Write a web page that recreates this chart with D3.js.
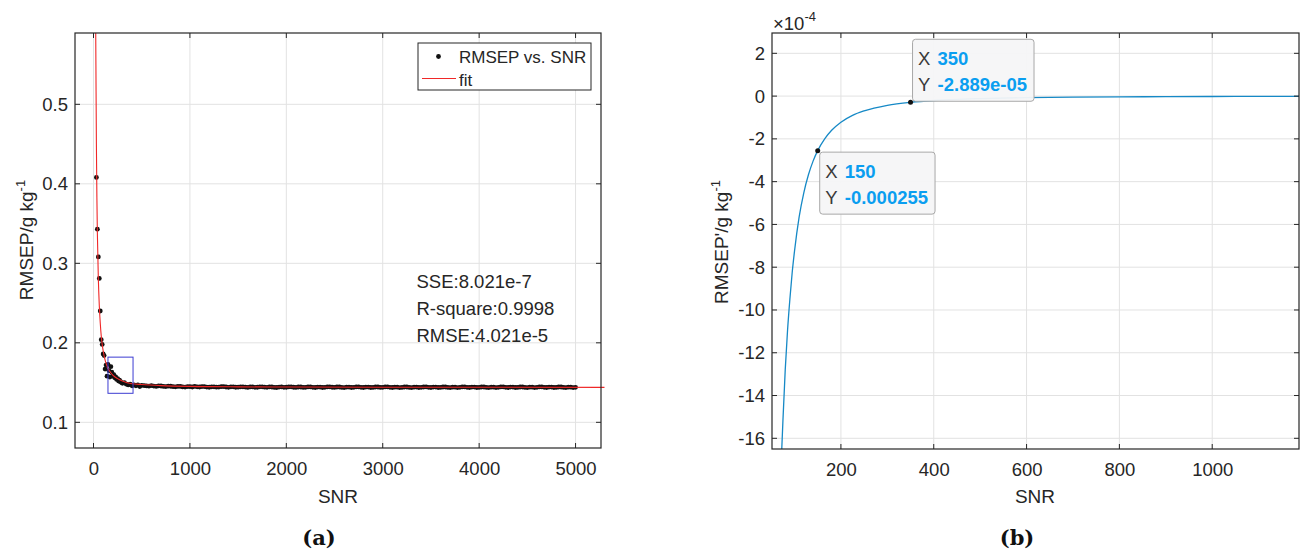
<!DOCTYPE html>
<html>
<head>
<meta charset="utf-8">
<script src="https://cdn.jsdelivr.net/npm/d3@7"></script>
<style>
body { margin: 0; background: #fff; }
svg text { font-family: "Liberation Sans", Arial, sans-serif; fill: #262626; }
</style>
</head>
<body>
<div id="chart-area"></div>
<script>

// ---- panel (a): RMSEP vs SNR, measured points ----
var snrA = [30, 40, 50, 60, 70, 80, 90, 100, 110, 120,
    130, 140, 150, 160, 170, 180, 190, 200, 210, 220,
    230, 240, 250, 260, 270, 280, 290, 300, 320, 340,
    360, 380, 400, 420, 440, 460, 480,
    500, 525, 550, 575, 600, 625, 650, 675, 700, 725,
    750, 775, 800, 825, 850, 875, 900, 925, 950, 975,
    1000, 1025, 1050, 1075, 1100, 1125, 1150, 1175, 1200, 1225,
    1250, 1275, 1300, 1325, 1350, 1375, 1400, 1425, 1450, 1475,
    1500, 1525, 1550, 1575, 1600, 1625, 1650, 1675, 1700, 1725,
    1750, 1775, 1800, 1825, 1850, 1875, 1900, 1925, 1950, 1975,
    2000, 2025, 2050, 2075, 2100, 2125, 2150, 2175, 2200, 2225,
    2250, 2275, 2300, 2325, 2350, 2375, 2400, 2425, 2450, 2475,
    2500, 2525, 2550, 2575, 2600, 2625, 2650, 2675, 2700, 2725,
    2750, 2775, 2800, 2825, 2850, 2875, 2900, 2925, 2950, 2975,
    3000, 3025, 3050, 3075, 3100, 3125, 3150, 3175, 3200, 3225,
    3250, 3275, 3300, 3325, 3350, 3375, 3400, 3425, 3450, 3475,
    3500, 3525, 3550, 3575, 3600, 3625, 3650, 3675, 3700, 3725,
    3750, 3775, 3800, 3825, 3850, 3875, 3900, 3925, 3950, 3975,
    4000, 4025, 4050, 4075, 4100, 4125, 4150, 4175, 4200, 4225,
    4250, 4275, 4300, 4325, 4350, 4375, 4400, 4425, 4450, 4475,
    4500, 4525, 4550, 4575, 4600, 4625, 4650, 4675, 4700, 4725,
    4750, 4775, 4800, 4825, 4850, 4875, 4900, 4925, 4950, 4975,
    5000];
var rmsepA = [0.408, 0.343, 0.308, 0.281, 0.240, 0.204, 0.198, 0.186, 0.184, 0.167,
    0.172, 0.158, 0.173, 0.165, 0.157, 0.170, 0.163, 0.158, 0.160, 0.156,
    0.157, 0.154, 0.155, 0.152, 0.153, 0.151, 0.150, 0.149, 0.150, 0.148,
    0.147, 0.148, 0.146, 0.147, 0.146, 0.147, 0.145,
    0.1465, 0.1461, 0.1458, 0.1455, 0.1462, 0.1456, 0.1452, 0.1458, 0.1457, 0.1451,
    0.1449, 0.1455, 0.1454, 0.1448, 0.1446, 0.1452, 0.1451, 0.1445, 0.1443, 0.1449,
    0.1448, 0.1444, 0.1452, 0.1446, 0.1444, 0.1450, 0.1449, 0.1443, 0.1441, 0.1447,
    0.1447, 0.1442, 0.1443, 0.1448, 0.1449, 0.1444, 0.1440, 0.1446, 0.1446, 0.1441,
    0.1442, 0.1447, 0.1447, 0.1443, 0.1439, 0.1445, 0.1445, 0.1440, 0.1441, 0.1446,
    0.1447, 0.1442, 0.1440, 0.1445, 0.1444, 0.1439, 0.1438, 0.1443, 0.1445, 0.1440,
    0.1441, 0.1445, 0.1446, 0.1441, 0.1439, 0.1444, 0.1444, 0.1439, 0.1440, 0.1445,
    0.1445, 0.1440, 0.1438, 0.1443, 0.1443, 0.1438, 0.1440, 0.1445, 0.1446, 0.1441,
    0.1439, 0.1444, 0.1444, 0.1439, 0.1437, 0.1442, 0.1443, 0.1438, 0.1440, 0.1445,
    0.1445, 0.1440, 0.1438, 0.1443, 0.1443, 0.1438, 0.1439, 0.1444, 0.1444, 0.1439,
    0.1440, 0.1445, 0.1445, 0.1440, 0.1438, 0.1442, 0.1442, 0.1437, 0.1439, 0.1444,
    0.1444, 0.1439, 0.1437, 0.1442, 0.1443, 0.1438, 0.1440, 0.1444, 0.1445, 0.1440,
    0.1438, 0.1443, 0.1443, 0.1438, 0.1439, 0.1444, 0.1444, 0.1439, 0.1437, 0.1442,
    0.1442, 0.1437, 0.1440, 0.1445, 0.1445, 0.1440, 0.1438, 0.1443, 0.1443, 0.1438,
    0.1439, 0.1444, 0.1444, 0.1439, 0.1437, 0.1442, 0.1442, 0.1437, 0.1440, 0.1445,
    0.1445, 0.1440, 0.1438, 0.1443, 0.1443, 0.1438, 0.1439, 0.1444, 0.1444, 0.1439,
    0.1437, 0.1442, 0.1442, 0.1437, 0.1440, 0.1445, 0.1445, 0.1440, 0.1438, 0.1443,
    0.1443, 0.1438, 0.1439, 0.1444, 0.1444, 0.1439, 0.1437, 0.1442, 0.1442, 0.1437,
    0.1440];

// fitted curve
var fitSnr = [22, 25, 30, 35, 40, 50, 60, 70, 80, 90, 100, 125, 150, 175, 200,
    250, 300, 400, 500, 700, 1000, 1500, 2000, 3000, 4000, 5300];
var fitRmsep = [0.610, 0.549, 0.449, 0.383, 0.338, 0.281, 0.247, 0.225, 0.209, 0.198,
    0.190, 0.176, 0.168, 0.163, 0.1595, 0.155, 0.152, 0.1485, 0.1475, 0.1462,
    0.1452, 0.1446, 0.1444, 0.1442, 0.1441, 0.1440];

var fitStats = ["SSE:8.021e-7", "R-square:0.9998", "RMSE:4.021e-5"];
var zoomBoxSnr = [150, 410];
var zoomBoxRmsep = [0.1365, 0.182];

var xTicksA = [0, 1000, 2000, 3000, 4000, 5000];
var yTicksA = [0.1, 0.2, 0.3, 0.4, 0.5];

// ---- panel (b): derivative of the fit ----
var snrB = [72, 75, 80, 85, 90, 95, 100, 110, 120, 130, 140, 150, 165, 180, 200,
    225, 250, 300, 350, 400, 450, 500, 600, 700, 800, 900, 1000, 1100, 1190];
var derivB = [-16.8e-4, -15.2e-4, -12.8e-4, -10.95e-4, -9.5e-4, -8.25e-4, -7.25e-4, -5.65e-4,
    -4.52e-4, -3.68e-4, -3.04e-4, -2.55e-4, -2.0e-4, -1.6e-4, -1.22e-4,
    -0.90e-4, -0.69e-4, -0.43e-4, -0.2889e-4, -0.205e-4, -0.152e-4, -0.115e-4,
    -0.072e-4, -0.049e-4, -0.035e-4, -0.026e-4, -0.019e-4, -0.015e-4, -0.012e-4];

var tipSnr = [150, 350];
var tipDeriv = [-0.000255, -2.889e-05];
var tipText = ["-0.000255", "-2.889e-05"];

var xTicksB = [200, 400, 600, 800, 1000];
var yTicksB = [2, 0, -2, -4, -6, -8, -10, -12, -14, -16];   // x 1e-4


var svg = d3.select("#chart-area")
    .append("svg")
        .attr("width", 1301)
        .attr("height", 552);

var fs = "18.5px";

// grid lines (drawn under the data)
function drawGrid(g, x, y, w, h, xt, yt) {
    g.selectAll(".gx").data(xt).enter().append("line")
        .attr("x1", function(d){ return x(d); })
        .attr("x2", function(d){ return x(d); })
        .attr("y1", 0).attr("y2", h)
        .attr("stroke", "#e2e2e2");
    g.selectAll(".gy").data(yt).enter().append("line")
        .attr("y1", function(d){ return y(d); })
        .attr("y2", function(d){ return y(d); })
        .attr("x1", 0).attr("x2", w)
        .attr("stroke", "#e2e2e2");
}

function drawBox(g, x, y, w, h, xt, yt, xFmt, yFmt) {
    // inward ticks on all sides
    xt.forEach(function(d) {
        g.append("line").attr("x1", x(d)).attr("x2", x(d)).attr("y1", h).attr("y2", h - 5).attr("stroke", "#262626");
        g.append("line").attr("x1", x(d)).attr("x2", x(d)).attr("y1", 0).attr("y2", 5).attr("stroke", "#262626");
    });
    yt.forEach(function(d) {
        g.append("line").attr("y1", y(d)).attr("y2", y(d)).attr("x1", 0).attr("x2", 5).attr("stroke", "#262626");
        g.append("line").attr("y1", y(d)).attr("y2", y(d)).attr("x1", w).attr("x2", w - 5).attr("stroke", "#262626");
    });
    g.append("rect")
        .attr("width", w).attr("height", h)
        .attr("fill", "none")
        .attr("stroke", "#262626")
        .attr("stroke-width", 1.2);

    // tick labels via d3 axes
    var xAxis = g.append("g")
        .attr("transform", "translate(0," + h + ")")
        .call(d3.axisBottom(x).tickValues(xt).tickSize(0).tickPadding(14).tickFormat(xFmt));
    var yAxis = g.append("g")
        .call(d3.axisLeft(y).tickValues(yt).tickSize(0).tickPadding(7).tickFormat(yFmt));
    [xAxis, yAxis].forEach(function(a) {
        a.select(".domain").remove();
        a.selectAll("text").attr("font-size", fs).attr("fill", "#262626");
    });
}

/* ================= panel (a) ================= */
var wA = 526, hA = 415;
var gA = svg.append("g").attr("transform", "translate(75,33)");

var xA = d3.scaleLinear().domain([-192, 5264]).range([0, wA]);
var yA = d3.scaleLinear().domain([0.0677, 0.5897]).range([hA, 0]);

drawGrid(gA, xA, yA, wA, hA, xTicksA, yTicksA);

gA.append("clipPath").attr("id", "clipA")
    .append("rect").attr("x", 0).attr("y", 0).attr("width", wA + 6).attr("height", hA);

// Points
gA.append("g").selectAll("circle")
    .data(snrA)
    .enter()
    .append("circle")
        .attr("cx", function(d){ return xA(d); })
        .attr("cy", function(d, i){ return yA(rmsepA[i]); })
        .attr("r", 2.4)
        .attr("fill", "#111");

// Fit line
var lineA = d3.line()
    .x(function(d){ return xA(d); })
    .y(function(d, i){ return yA(fitRmsep[i]); })
    .curve(d3.curveMonotoneX);
gA.append("path")
    .attr("clip-path", "url(#clipA)")
    .attr("d", lineA(fitSnr))
    .attr("fill", "none")
    .attr("stroke", "#f02828")
    .attr("stroke-width", 1.1);

// zoom rectangle
gA.append("rect")
    .attr("x", xA(zoomBoxSnr[0]))
    .attr("y", yA(zoomBoxRmsep[1]))
    .attr("width", xA(zoomBoxSnr[1]) - xA(zoomBoxSnr[0]))
    .attr("height", yA(zoomBoxRmsep[0]) - yA(zoomBoxRmsep[1]))
    .attr("fill", "none")
    .attr("stroke", "#3c3cd2")
    .attr("stroke-width", 1);

drawBox(gA, xA, yA, wA, hA, xTicksA, yTicksA, d3.format("d"), d3.format(".1f"));

// legend
var leg = gA.append("g").attr("transform", "translate(343,10)");
leg.append("rect").attr("width", 173).attr("height", 47)
    .attr("fill", "#fff").attr("stroke", "#262626").attr("stroke-width", 1);
leg.append("circle").attr("cx", 20.5).attr("cy", 13.5).attr("r", 2.4).attr("fill", "#111");
leg.append("text").attr("x", 41).attr("y", 19.5).attr("font-size", "17px").text("RMSEP vs. SNR");
leg.append("line").attr("x1", 4).attr("x2", 38).attr("y1", 35.5).attr("y2", 35.5)
    .attr("stroke", "#f02828").attr("stroke-width", 1.1);
leg.append("text").attr("x", 41).attr("y", 42.5).attr("font-size", "17px").text("fit");

// fit statistics
gA.selectAll(".stat").data(fitStats).enter().append("text")
    .attr("x", 341.5)
    .attr("y", function(d, i){ return 255 + i * 27.2; })
    .attr("font-size", fs)
    .text(function(d){ return d; });

// Y Label
var ylA = svg.append("text")
    .attr("transform", "translate(33,240) rotate(-90)")
    .attr("text-anchor", "middle")
    .attr("font-size", "19px");
ylA.append("tspan").text("RMSEP/g kg");
ylA.append("tspan").attr("dy", -8).attr("font-size", "13px").text("-1");

// X Label
svg.append("text")
    .attr("x", 338).attr("y", 503)
    .attr("text-anchor", "middle")
    .attr("font-size", "19px")
    .text("SNR");

svg.append("text")
    .attr("x", 319).attr("y", 545)
    .attr("text-anchor", "middle")
    .attr("font-size", "21px")
    .attr("font-weight", "bold")
    .style("font-family", "'DejaVu Serif', 'Liberation Serif', serif")
    .style("fill", "#111")
    .text("(a)");

/* ================= panel (b) ================= */
var wB = 527, hB = 416;
var gB = svg.append("g").attr("transform", "translate(772,33)");

var xB = d3.scaleLinear().domain([51.5, 1187]).range([0, wB]);
var yB = d3.scaleLinear().domain([-16.5e-4, 2.95e-4]).range([hB, 0]);
var yTicksBv = yTicksB.map(function(d){ return d * 1e-4; });

drawGrid(gB, xB, yB, wB, hB, xTicksB, yTicksBv);

gB.append("clipPath").attr("id", "clipB")
    .append("rect").attr("width", wB).attr("height", hB);

var lineB = d3.line()
    .x(function(d){ return xB(d); })
    .y(function(d, i){ return yB(derivB[i]); })
    .curve(d3.curveMonotoneX);
gB.append("path")
    .attr("clip-path", "url(#clipB)")
    .attr("d", lineB(snrB))
    .attr("fill", "none")
    .attr("stroke", "#1689c6")
    .attr("stroke-width", 1.3);

drawBox(gB, xB, yB, wB, hB, xTicksB, yTicksBv, d3.format("d"), function(d){ return Math.round(d * 1e4); });

// exponent
var ex = svg.append("text")
    .attr("x", 773).attr("y", 30)
    .attr("font-size", fs);
ex.append("tspan").text("\u00d710");
ex.append("tspan").attr("dy", -9).attr("font-size", "13px").text("-4");

// data tips
tipSnr.forEach(function(s, i) {
    var px = xB(s), py = yB(tipDeriv[i]);
    var above = i == 1;
    var tip = gB.append("g")
        .attr("transform", "translate(" + (px + 2) + "," + (above ? py - 63 : py + 1.5) + ")");
    var box = tip.append("rect")
        .attr("rx", 3).attr("height", 62)
        .attr("fill", "#f5f5f7").attr("fill-opacity", 0.95)
        .attr("stroke", "#a8a8a8").attr("stroke-width", 1);
    tip.append("text").attr("x", 5.5).attr("y", 25.5).attr("font-size", fs).style("fill", "#3a3a3a").text("X");
    tip.append("text").attr("x", 5.5).attr("y", 52).attr("font-size", fs).style("fill", "#3a3a3a").text("Y");
    tip.append("text").attr("x", 25).attr("y", 25.5).attr("font-size", fs)
        .attr("font-weight", "bold").style("fill", "#0a9ef0").text(s);
    var v = tip.append("text").attr("x", 25).attr("y", 52).attr("font-size", fs)
        .attr("font-weight", "bold").style("fill", "#0a9ef0").text(tipText[i]);
    box.attr("width", 25 + v.node().getComputedTextLength() + 7);

    gB.append("circle").attr("cx", px).attr("cy", py).attr("r", 2.5).attr("fill", "#111");
});

// Y Label
var ylB = svg.append("text")
    .attr("transform", "translate(728,242) rotate(-90)")
    .attr("text-anchor", "middle")
    .attr("font-size", "19px");
ylB.append("tspan").text("RMSEP'/g kg");
ylB.append("tspan").attr("dy", -8).attr("font-size", "13px").text("-1");

svg.append("text")
    .attr("x", 1035).attr("y", 503)
    .attr("text-anchor", "middle")
    .attr("font-size", "19px")
    .text("SNR");

svg.append("text")
    .attr("x", 1017).attr("y", 545)
    .attr("text-anchor", "middle")
    .attr("font-size", "21px")
    .attr("font-weight", "bold")
    .style("font-family", "'DejaVu Serif', 'Liberation Serif', serif")
    .style("fill", "#111")
    .text("(b)");

</script>
</body>
</html>
